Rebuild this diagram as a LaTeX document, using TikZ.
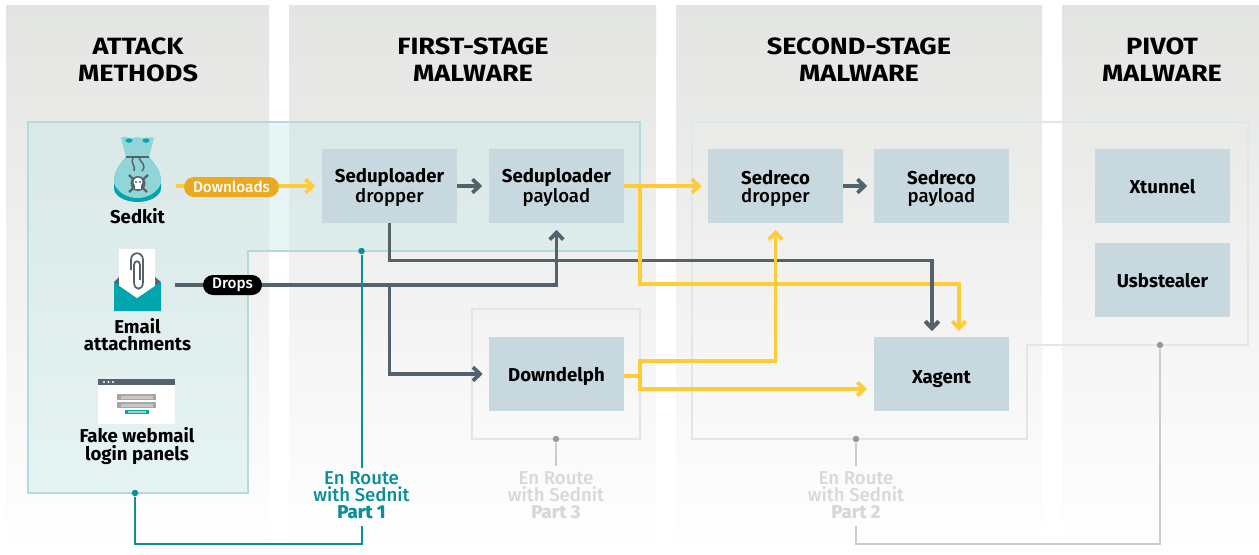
\documentclass[tikz,border=0pt]{standalone}
\usepackage{fontspec}
\setmainfont{Fira Sans}
\newfontfamily\medfont{Fira Sans Medium}
\newfontfamily\headfont{Fira Sans}[FakeStretch=1.15]
\usetikzlibrary{arrows.meta,shapes.misc}
\definecolor{slate}{HTML}{56626B}
\definecolor{sun}{HTML}{FFCB37}
\definecolor{amber}{HTML}{EBA91F}
\definecolor{deepteal}{HTML}{0E8F97}
\definecolor{iconteal}{HTML}{00A5AE}
\definecolor{bagteal}{HTML}{90D6D9}
\definecolor{boxblue}{HTML}{C8D8DF}
\definecolor{faded}{HTML}{D6D9DA}
\definecolor{fadedline}{HTML}{C9CDCE}
\definecolor{framepale}{HTML}{DCE8EA}
\definecolor{frameteal}{HTML}{B5DADB}
\definecolor{framefill}{HTML}{C5E6E6}
\definecolor{colgray}{HTML}{E3E5E2}
\tikzset{
    column/.style={top color=colgray,bottom color=white,middle color=colgray!50!white},
    malbox/.style={fill=boxblue,minimum width=2.7cm,minimum height=1.48cm,inner sep=0pt,align=center,text=black,text height=8pt,text depth=0pt,font=\fontsize{10.6}{10.2}\selectfont},
    twoline/.style={text height=19pt},
    heading/.style={align=center,text=black,font=\fontsize{13.4}{15.3}\selectfont\headfont\bfseries},
    iconlabel/.style={align=center,text=black,font=\fontsize{10.6}{9.7}\selectfont\bfseries},
    pill/.style={rounded rectangle,text=white,inner sep=0pt,minimum height=0.4cm,font=\fontsize{8.7}{9}\selectfont\medfont},
    partlabel/.style={align=center,font=\fontsize{10.6}{9.7}\selectfont\medfont},
    sunline/.style={sun,line width=0.075cm},
    slateline/.style={slate,line width=0.075cm},
    tip/.style={-{Straight Barb[length=0.14cm,width=0.27cm]}},
    gapend/.style={shorten >=0.13cm},
    refdot/.style={circle,inner sep=0pt,minimum size=0.13cm}
}
\begin{document}
\begin{tikzpicture}[x=0.02cm,y=-0.02cm]
    \useasboundingbox (0,0) rectangle (1259,555);
    \fill [white] (0,0) rectangle (1259,555);
    \shade [column] (6,5) rectangle (269,555);
    \shade [column] (289,5) rectangle (656,555);
    \shade [column] (676,5) rectangle (1042,555);
    \shade [column] (1062,5) rectangle (1259,555);

    \node [heading] (attack) at (138,60) {ATTACK\\METHODS};
    \node [heading] (first) at (473,60) {FIRST-STAGE\\MALWARE};
    \node [heading] (second) at (859,60) {SECOND-STAGE\\MALWARE};
    \node [heading] (pivot) at (1162,60) {PIVOT\\MALWARE};

    \fill [framefill, opacity=0.4] (28,122)--(640,122)--(640,251)--(248,251)--(248,493)--(28,493)--cycle;
    \draw [frameteal, line width=0.04cm] (28,122)--(640,122)--(640,251)--(248,251)--(248,493)--(28,493)--cycle;
    \draw [framepale, line width=0.04cm] (692,122)--(1248,122)--(1248,345)--(1027,345)--(1027,439)--(692,439)--cycle;
    \draw [framepale, line width=0.04cm] (472,309) rectangle (640,439);

    \node [malbox, twoline] (sddrop) at (389.5,186) {\textbf{Seduploader}\\{\medfont dropper}};
    \node [malbox, twoline] (sdpay) at (556.5,186) {\textbf{Seduploader}\\{\medfont payload}};
    \node [malbox, twoline] (srdrop) at (775.5,186) {\textbf{Sedreco}\\{\medfont dropper}};
    \node [malbox, twoline] (srpay) at (941.5,186) {\textbf{Sedreco}\\{\medfont payload}};
    \node [malbox] (xtunnel) at (1162.5,186) {\textbf{Xtunnel}};
    \node [malbox] (usb) at (1162.5,280) {\textbf{Usbstealer}};
    \node [malbox] (downd) at (556.5,374) {\textbf{Downdelph}};
    \node [malbox] (xagent) at (941.5,374) {\raisebox{-1.3pt}{\textbf{Xagent}}};

    \coordinate (sedout) at (176,186);
    \coordinate (mailout) at (175,285);
    \coordinate (grayin) at (932,331);
    \coordinate (sunin) at (959,331);
    \coordinate (sunsplit) at (640,186);
    \coordinate (dropsplit) at (389.5,285);
    \coordinate (downsplit) at (640,376);

    \draw [slateline, tip, gapend] (sddrop.east) -- (sdpay.west);
    \draw [slateline, tip, gapend] (srdrop.east) -- (srpay.west);
    \draw [slateline, tip] (sddrop.south) -- (389.5,260.5) -- (932,260.5) -- (grayin);
    \draw [slateline, tip, gapend] (mailout) -- (556.5,285) -- (sdpay.south);
    \draw [slateline, tip, shorten >=0.12cm] (dropsplit) -- (389.5,374) -- (downd.west);

    \draw [sunline, tip, gapend] (sedout) -- (sddrop.west);
    \draw [sunline, tip, shorten >=0.12cm] (sdpay.east) -- (srdrop.west);
    \draw [sunline, tip] (sunsplit) -- (640,284) -- (959,284) -- (sunin);
    \draw [sunline] (624,376) -- (downsplit);
    \draw [sunline, tip, gapend] (640,376) -- (640,361) -- (775.5,361) -- (srdrop.south);
    \draw [sunline, tip, shorten >=0.14cm] (640,376) -- (640,389) -- (874,389);
    \draw [slateline, tip] (932,270) -- (grayin);

    \node [pill, fill=amber, minimum width=1.9cm] (downloads) at (231.5,187) {Downloads};
    \node [pill, fill=black, minimum width=1.18cm] (drops) at (232.5,285) {Drops};

    \fill [iconteal] (114,183) .. controls (114,170) and (120,165) .. (126,157) -- (149,157) .. controls (155,165) and (161,170) .. (161,183) -- (161,188) .. controls (161,196) and (150,202) .. (137.5,202) .. controls (125,202) and (114,196) .. (114,188) -- cycle;
    \fill [bagteal] (121,138) .. controls (124,136) and (127,137) .. (129,138) .. controls (132,139) and (134,137) .. (137,137) .. controls (140,137) and (143,139) .. (146,138) .. controls (149,137) and (151,137) .. (154,138) -- (149,157) .. controls (155,165) and (161,170) .. (161,183) .. controls (158,192) and (148,198) .. (137.5,198) .. controls (127,198) and (117,192) .. (114,183) .. controls (114,170) and (120,165) .. (126,157) -- cycle;
    \fill [iconteal] (129,140.5) ellipse [x radius=3.5, y radius=2.2];
    \fill [iconteal] (146,140.5) ellipse [x radius=3.5, y radius=2.2];
    \draw [slate, line width=0.035cm] (126,157) -- (149,157);
    \draw [slate, line width=0.03cm] (133,158) .. controls (130,163) and (136,166) .. (134,171);
    \draw [slate, line width=0.03cm] (139,158) .. controls (141,163) and (147,165) .. (142,171);
    \draw [slate, line width=0.045cm] (129,175) -- (147,192);
    \draw [slate, line width=0.045cm] (148,175) -- (129,192);
    \fill [slate] (138,183.5) circle [radius=7.5];
    \fill [white] (138,182) circle [radius=4.5];
    \fill [white] (135,184) rectangle (141,189);
    \fill [slate] (136,182) circle [radius=1.2];
    \fill [slate] (140,182) circle [radius=1.2];

    \fill [slate] (114,282) -- (119,277) -- (119,287) -- cycle;
    \fill [slate] (161,282) -- (155,277) -- (155,287) -- cycle;
    \fill [white] (119,249) rectangle (155,286);
    \draw [slate, line width=0.035cm] (131,270) -- (131,260) .. controls (131,251) and (143,251) .. (143,260) -- (143,282) .. controls (143,291) and (134,291) .. (134,282) -- (134,265) .. controls (134,260) and (140,260) .. (140,265) -- (140,281);
    \fill [iconteal] (114,282) -- (137,298) -- (161,282) -- (161,311) -- (114,311) -- cycle;
    \fill [white] (119,285.5) -- (137,298) -- (155,285.5) -- (155,280) -- (119,280) -- cycle;
    \draw [slate, line width=0.035cm] (143,270) -- (143,282) .. controls (143,291) and (134,291) .. (134,282) -- (134,270);

    \fill [white] (98,379) rectangle (175,424);
    \fill [slate] (98,379) rectangle (175,385);
    \foreach \dotx in {104,108.5,113} {
        \fill [white] (\dotx,382) circle [radius=1.1];
    }
    \foreach \fieldy in {394,402} {
        \fill [gray!70] (117,\fieldy) rectangle (156,\fieldy+6);
        \fill [gray!45] (121,\fieldy+2) rectangle (153,\fieldy+5);
    }
    \fill [iconteal] (125,410) rectangle (149,414);
    \fill [bagteal] (128,411) rectangle (146,413);

    \node [iconlabel] (sedkit) at (137.5,216) {Sedkit};
    \node [iconlabel] (email) at (137.5,335) {Email\\attachments};
    \node [iconlabel] (fake) at (137,446) {Fake webmail\\login panels};

    \node [partlabel, text=deepteal] (part1) at (361.5,495) {En Route\\with Sednit\\\textbf{Part 1}};
    \node [partlabel, text=faded] (part3) at (556,495) {En Route\\with Sednit\\\textbf{Part 3}};
    \node [partlabel, text=faded] (part2) at (856,495) {En Route\\with Sednit\\\textbf{Part 2}};

    \node [refdot, fill=deepteal] (dota) at (135,493) {};
    \node [refdot, fill=deepteal] (dotb) at (361.5,251) {};
    \node [refdot, fill=gray!80] (dotc) at (556,439) {};
    \node [refdot, fill=gray!80] (dotd) at (856,439) {};
    \node [refdot, fill=gray!80] (dote) at (1160,345) {};

    \draw [deepteal, line width=0.04cm] (dotb) -- (361.5,468);
    \draw [deepteal, line width=0.04cm] (dota) -- (135,544) -- (361.5,544) -- (361.5,526);
    \draw [fadedline, line width=0.04cm] (dotc) -- (556,466);
    \draw [fadedline, line width=0.04cm] (dotd) -- (856,466);
    \draw [fadedline, line width=0.04cm] (856,526) -- (856,544) -- (1160,544) -- (dote);
\end{tikzpicture}
\end{document}
